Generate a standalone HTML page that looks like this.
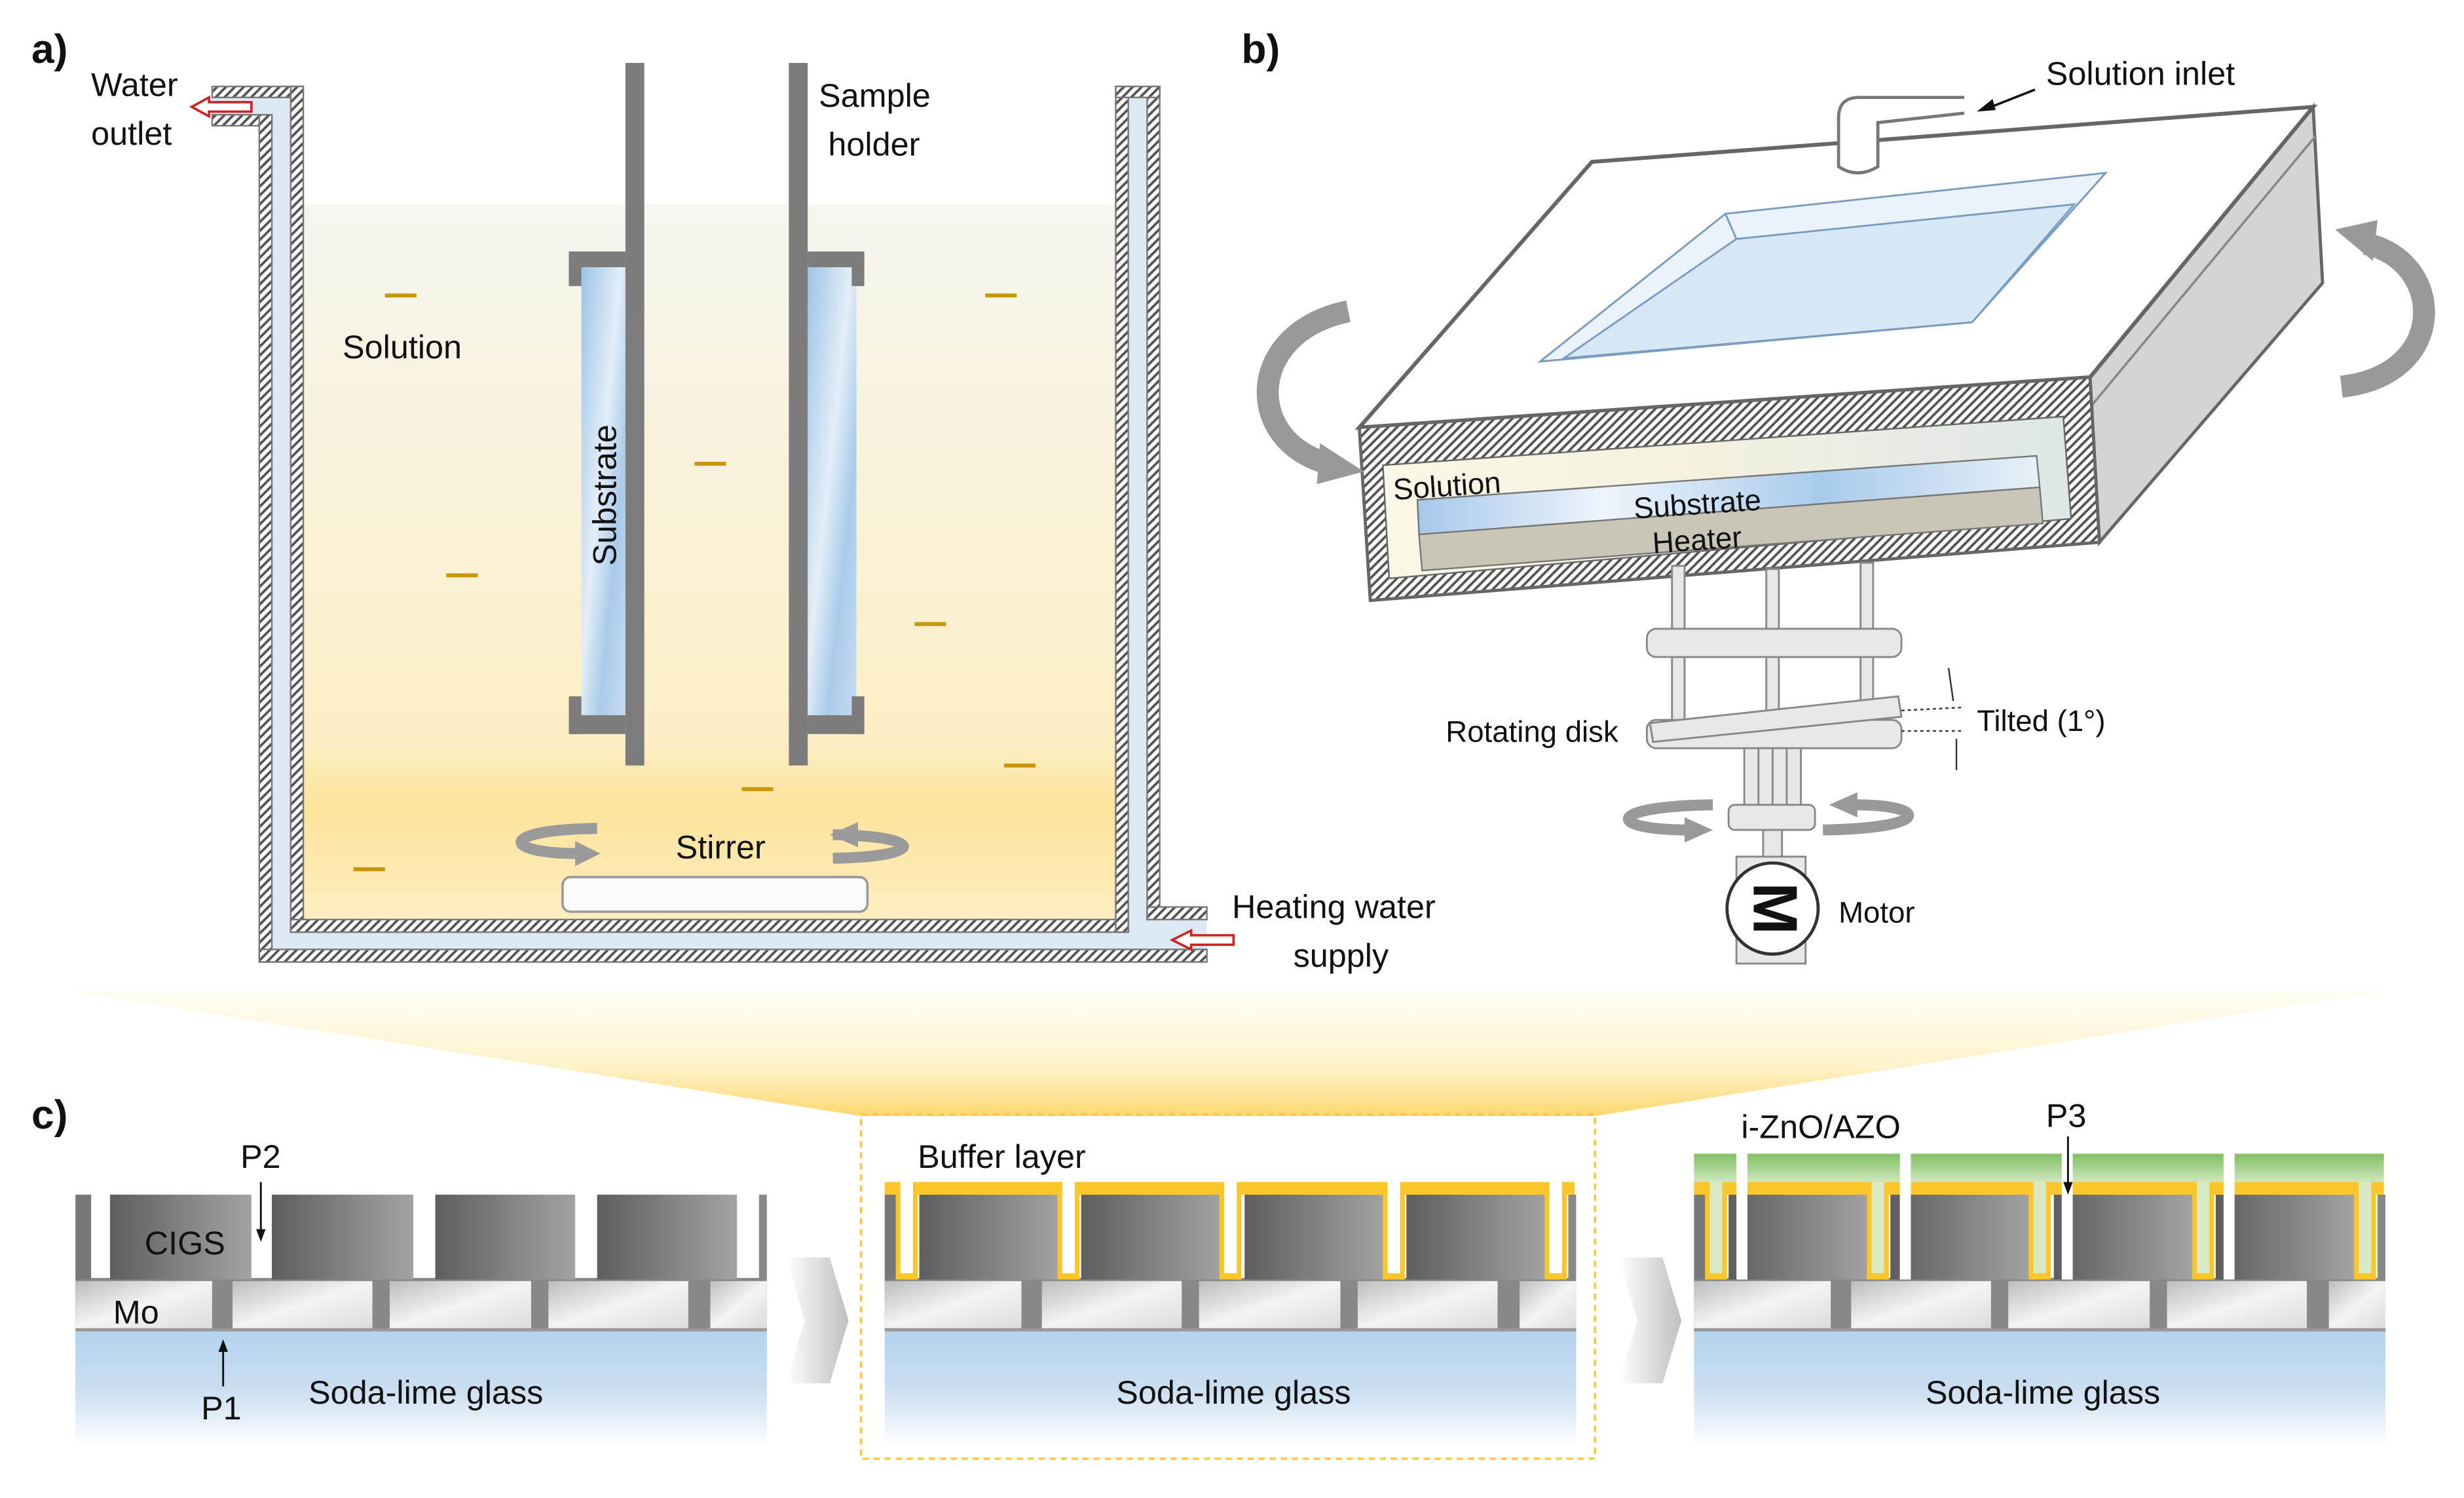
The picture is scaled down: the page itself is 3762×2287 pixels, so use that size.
<!DOCTYPE html>
<html><head><meta charset="utf-8"><style>
html,body{margin:0;padding:0;background:#fff;}
svg{display:block;}
text{font-family:"Liberation Sans",sans-serif;fill:#111;}
</style></head><body>
<svg width="3762" height="2287" viewBox="0 0 1568 953" preserveAspectRatio="none" xmlns="http://www.w3.org/2000/svg">
<defs>
<pattern id="hatch" patternUnits="userSpaceOnUse" width="4" height="4" patternTransform="rotate(45)">
<rect width="4" height="4" fill="#fff"/><rect width="1.6" height="4" fill="#555"/></pattern>
<linearGradient id="liq" x1="0" y1="0" x2="0" y2="1">
<stop offset="0" stop-color="#f6f5ef"/><stop offset="0.75" stop-color="#fcefc6"/><stop offset="0.84" stop-color="#fde39a"/><stop offset="1" stop-color="#fdedc0"/></linearGradient>
<linearGradient id="sub" x1="0" y1="0" x2="1" y2="1">
<stop offset="0" stop-color="#9cc3e6"/><stop offset="0.45" stop-color="#e3eef8"/><stop offset="0.7" stop-color="#a9cbea"/><stop offset="1" stop-color="#c8dcf0"/></linearGradient>
<linearGradient id="glass" x1="0" y1="0" x2="0" y2="1">
<stop offset="0" stop-color="#b3d2ec"/><stop offset="0.5" stop-color="#c9def1"/><stop offset="1" stop-color="#ffffff"/></linearGradient>
<linearGradient id="mo" x1="0" y1="0" x2="1" y2="1">
<stop offset="0" stop-color="#bdbdbd"/><stop offset="0.5" stop-color="#f4f4f4"/><stop offset="1" stop-color="#dcdcdc"/></linearGradient>
<linearGradient id="cigs" x1="0" y1="0" x2="1" y2="0">
<stop offset="0" stop-color="#5e5e5e"/><stop offset="1" stop-color="#a3a3a3"/></linearGradient>
<linearGradient id="fan" x1="0" y1="0" x2="0" y2="1">
<stop offset="0" stop-color="#fffdf5"/><stop offset="0.6" stop-color="#fff3cc"/><stop offset="1" stop-color="#fdd870"/></linearGradient>
<linearGradient id="green" x1="0" y1="0" x2="0" y2="1">
<stop offset="0" stop-color="#7fbf63"/><stop offset="1" stop-color="#cfe6bd"/></linearGradient>
<linearGradient id="chev" x1="0" y1="0" x2="1" y2="0">
<stop offset="0" stop-color="#fff"/><stop offset="1" stop-color="#bfbfbf"/></linearGradient>
<linearGradient id="bsol" x1="0" y1="0" x2="1" y2="0">
<stop offset="0" stop-color="#fbf7e6"/><stop offset="0.5" stop-color="#f3f0e0"/><stop offset="1" stop-color="#dde6e8"/></linearGradient>
<linearGradient id="bsub" x1="0" y1="0" x2="1" y2="0">
<stop offset="0" stop-color="#a6c8ea"/><stop offset="0.3" stop-color="#eef4fb"/><stop offset="0.65" stop-color="#a8cbec"/><stop offset="1" stop-color="#e8f0f8"/></linearGradient>
<g id="stack">
<rect x="48" y="845" width="440" height="76" fill="url(#glass)"/>
<rect x="48" y="813" width="440" height="33" fill="#888"/>
<rect x="48" y="815" width="87" height="30" fill="url(#mo)"/>
<rect x="148" y="815" width="89" height="30" fill="url(#mo)"/>
<rect x="248" y="815" width="90" height="30" fill="url(#mo)"/>
<rect x="349" y="815" width="89" height="30" fill="url(#mo)"/>
<rect x="452" y="815" width="36" height="30" fill="url(#mo)"/>
<rect x="48" y="845" width="440" height="2" fill="#999"/>
<rect x="48" y="760" width="10" height="54" fill="#777"/>
<rect x="70" y="760" width="90" height="54" fill="url(#cigs)"/>
<rect x="173" y="760" width="90" height="54" fill="url(#cigs)"/>
<rect x="277" y="760" width="89" height="54" fill="url(#cigs)"/>
<rect x="380" y="760" width="89" height="54" fill="url(#cigs)"/>
<rect x="483" y="760" width="5" height="54" fill="#888"/>
</g>
</defs>

<!-- Panel a -->
<text x="20" y="40" font-size="26" font-weight="bold">a)</text>
<rect x="193" y="130" width="517" height="455" fill="url(#liq)"/>
<g fill="#dce8f4">
<rect x="173" y="62" width="12" height="542"/><rect x="135" y="62" width="50" height="11"/>
<rect x="173" y="593" width="595" height="11"/><rect x="718" y="62" width="12" height="542"/>
<rect x="730" y="585" width="38" height="19"/></g>
<g fill="url(#hatch)" stroke="#777" stroke-width="1">
<rect x="135" y="55" width="58" height="7"/><rect x="135" y="73" width="38" height="7"/>
<rect x="165" y="73" width="8" height="539"/><rect x="185" y="55" width="8" height="538"/>
<rect x="185" y="585" width="533" height="8"/><rect x="165" y="604" width="603" height="8"/>
<rect x="710" y="55" width="8" height="538"/><rect x="730" y="55" width="8" height="530"/>
<rect x="710" y="55" width="28" height="7"/><rect x="730" y="577" width="38" height="8"/></g>
<path d="M160,65 L133,65 L133,62 L122,68 L133,74 L133,71 L160,71 Z" fill="#fff" stroke="#d02020" stroke-width="1.5"/>
<path d="M785,595 L758,595 L758,592 L746,598 L758,604 L758,601 L785,601 Z" fill="#fff" stroke="#d02020" stroke-width="1.5"/>
<rect x="370" y="170" width="28" height="285" fill="url(#sub)"/>
<rect x="514" y="170" width="31" height="285" fill="url(#sub)"/>
<g fill="#7c7c7c">
<rect x="398" y="40" width="12" height="447"/><rect x="502" y="40" width="12" height="447"/>
<rect x="362" y="160" width="36" height="10"/><rect x="362" y="160" width="8" height="22"/>
<rect x="362" y="455" width="36" height="12"/><rect x="362" y="443" width="8" height="24"/>
<rect x="514" y="160" width="36" height="10"/><rect x="542" y="160" width="8" height="22"/>
<rect x="514" y="455" width="36" height="12"/><rect x="542" y="443" width="8" height="24"/></g>
<text transform="translate(392,315) rotate(-90)" font-size="21" text-anchor="middle">Substrate</text>
<g stroke="#c8960a" stroke-width="2.5">
<line x1="245" y1="188" x2="265" y2="188"/><line x1="627" y1="188" x2="647" y2="188"/>
<line x1="442" y1="295" x2="462" y2="295"/><line x1="284" y1="366" x2="304" y2="366"/>
<line x1="582" y1="397" x2="602" y2="397"/><line x1="639" y1="487" x2="659" y2="487"/>
<line x1="472" y1="502" x2="492" y2="502"/><line x1="225" y1="553" x2="245" y2="553"/></g>
<rect x="358" y="558" width="194" height="22" rx="5" fill="#fafafa" stroke="#999" stroke-width="1.5"/>
<path d="M380,527 C315,528 320,543 368,543" fill="none" stroke="#9a9a9a" stroke-width="7"/>
<polygon points="366,535 382,543 366,551" fill="#9a9a9a"/>
<path d="M530,531 C590,532 590,545 530,546" fill="none" stroke="#9a9a9a" stroke-width="7"/>
<polygon points="546,523 528,531 546,539" fill="#9a9a9a"/>
<g font-size="21">
<text x="58" y="61">Water</text><text x="58" y="92">outlet</text>
<text x="521" y="68">Sample</text><text x="527" y="99">holder</text>
<text x="218" y="228">Solution</text>
<text x="430" y="546">Stirrer</text>
<text x="784" y="584">Heating water</text><text x="823" y="615">supply</text></g>

<!-- Panel b -->
<text x="790" y="40" font-size="26" font-weight="bold">b)</text>
<polygon points="1330,240 1472,68 1478,180 1336,345" fill="#d4d4d4" stroke="#666" stroke-width="2"/>
<line x1="1331" y1="258" x2="1474" y2="86" stroke="#888" stroke-width="1.5"/>
<polygon points="1013,103 1472,68 1330,240 865,272" fill="#fff" stroke="#666" stroke-width="2.5"/>
<polygon points="980,230 1098,136 1340,110 1255,205" fill="#eaf2fa" stroke="#7a9cbf" stroke-width="1.2"/>
<polygon points="995,228 1105,152 1320,130 1255,205" fill="#d8e7f5" stroke="#7a9cbf" stroke-width="1.2"/>
<line x1="1098" y1="136" x2="1105" y2="152" stroke="#7a9cbf" stroke-width="1.2"/>
<path d="M1250,62 L1183,62 Q1170,62 1170,75 L1170,106 Q1182,114 1195,106 L1195,78 L1250,72" fill="#fff" stroke="#777" stroke-width="2"/>
<line x1="1295" y1="57" x2="1262" y2="70" stroke="#111" stroke-width="1.5"/>
<polygon points="1258,71 1268,63 1270,70" fill="#111"/>
<polygon points="865,272 1330,240 1336,345 872,382" fill="url(#hatch)" stroke="#666" stroke-width="2"/>
<polygon points="880,296 1313,265 1318,330 884,368" fill="url(#bsol)" stroke="#666" stroke-width="1"/>
<polygon points="902,318 1296,290 1298,310 903,340" fill="url(#bsub)" stroke="#777" stroke-width="1"/>
<polygon points="903,340 1298,310 1300,333 905,363" fill="#c9c6b7" stroke="#777" stroke-width="1"/>
<g font-size="19">
<text transform="translate(887,318) rotate(-4)">Solution</text>
<text transform="translate(1040,330) rotate(-4)">Substrate</text>
<text transform="translate(1052,352) rotate(-4)">Heater</text></g>
<path d="M858,198 C790,212 792,285 850,296" fill="none" stroke="#999" stroke-width="14"/>
<polygon points="840,282 868,300 838,308" fill="#999"/>
<path d="M1490,246 C1560,238 1555,165 1505,155" fill="none" stroke="#999" stroke-width="14"/>
<polygon points="1513,140 1486,146 1510,166" fill="#999"/>
<g fill="#e8e8e8" stroke="#888" stroke-width="1.2">
<rect x="1064" y="360" width="8" height="100"/><rect x="1124" y="362" width="8" height="96"/><rect x="1184" y="358" width="8" height="95"/>
<rect x="1048" y="400" width="162" height="18" rx="6"/>
<rect x="1048" y="458" width="162" height="18" rx="6"/>
<polygon points="1050,460 1208,443 1210,456 1052,472"/>
<rect x="1110" y="476" width="36" height="38"/>
<line x1="1119" y1="476" x2="1119" y2="514"/><line x1="1128" y1="476" x2="1128" y2="514"/><line x1="1137" y1="476" x2="1137" y2="514"/>
<rect x="1100" y="512" width="55" height="16" rx="4"/>
<rect x="1122" y="528" width="12" height="18"/>
<rect x="1105" y="545" width="44" height="68"/></g>
<circle cx="1128" cy="578" r="29" fill="#fff" stroke="#333" stroke-width="2"/>
<text transform="translate(1116,578) rotate(90)" font-size="40" font-weight="bold" text-anchor="middle">M</text>
<path d="M1090,512 C1020,513 1022,528 1075,528" fill="none" stroke="#999" stroke-width="7"/>
<polygon points="1072,520 1090,528 1072,536" fill="#999"/>
<path d="M1160,528 C1230,527 1228,512 1180,512" fill="none" stroke="#999" stroke-width="7"/>
<polygon points="1182,504 1164,512 1182,520" fill="#999"/>
<g stroke="#333" stroke-width="1" stroke-dasharray="2,2">
<line x1="1210" y1="452" x2="1250" y2="450"/><line x1="1210" y1="465" x2="1250" y2="465"/></g>
<line x1="1240" y1="425" x2="1243" y2="446" stroke="#333" stroke-width="1"/>
<line x1="1245" y1="490" x2="1245" y2="470" stroke="#333" stroke-width="1"/>
<g font-size="19">
<text x="1302" y="54" font-size="21">Solution inlet</text>
<text x="920" y="472">Rotating disk</text>
<text x="1258" y="465">Tilted (1°)</text>
<text x="1170" y="587">Motor</text></g>

<!-- Panel c -->
<polygon points="40,630 1520,630 1015,710 548,710" fill="url(#fan)"/>
<text x="20" y="718" font-size="26" font-weight="bold">c)</text>
<use href="#stack"/>
<use href="#stack" transform="translate(515,0)"/>
<use href="#stack" transform="translate(1030,0)"/>
<polygon points="500,800 528,800 540,840 528,880 500,880 512,840" fill="url(#chev)"/>
<polygon points="1030,800 1058,800 1070,840 1058,880 1030,880 1042,840" fill="url(#chev)"/>
<rect x="563" y="752" width="439" height="8" fill="#fcc52a"/>
<g fill="#fcc52a">
<rect x="570" y="752" width="14" height="62"/><rect x="673" y="752" width="14" height="62"/><rect x="776" y="752" width="14" height="62"/><rect x="880" y="752" width="14" height="62"/><rect x="983" y="752" width="14" height="62"/></g>
<g fill="#fff">
<rect x="573" y="752" width="8" height="58"/><rect x="676" y="752" width="8" height="58"/><rect x="779" y="752" width="8" height="58"/><rect x="883" y="752" width="8" height="58"/><rect x="986" y="752" width="8" height="58"/></g>
<rect x="1078" y="734" width="439" height="18" fill="url(#green)"/>
<rect x="1078" y="752" width="439" height="8" fill="#fcc52a"/>
<g fill="#fcc52a">
<rect x="1085" y="752" width="14" height="62"/><rect x="1188" y="752" width="14" height="62"/><rect x="1291" y="752" width="14" height="62"/><rect x="1395" y="752" width="14" height="62"/><rect x="1498" y="752" width="14" height="62"/></g>
<g fill="#d8e9c6">
<rect x="1088" y="752" width="8" height="58"/><rect x="1191" y="752" width="8" height="58"/><rect x="1294" y="752" width="8" height="58"/><rect x="1398" y="752" width="8" height="58"/><rect x="1501" y="752" width="8" height="58"/></g>
<g fill="#fff">
<rect x="1105" y="734" width="7" height="80"/><rect x="1209" y="734" width="7" height="80"/><rect x="1312" y="734" width="7" height="80"/><rect x="1415" y="734" width="7" height="80"/></g>
<rect x="548" y="709" width="467" height="219" fill="none" stroke="#fcc840" stroke-width="1.5" stroke-dasharray="4,3"/>
<line x1="166" y1="752" x2="166" y2="785" stroke="#111" stroke-width="1.2"/><polygon points="163,782 169,782 166,790" fill="#111"/>
<line x1="142" y1="882" x2="142" y2="858" stroke="#111" stroke-width="1.2"/><polygon points="139,860 145,860 142,852" fill="#111"/>
<line x1="1316" y1="723" x2="1316" y2="755" stroke="#111" stroke-width="1.2"/><polygon points="1313,752 1319,752 1316,760" fill="#111"/>
<g font-size="21">
<text x="153" y="743">P2</text>
<text x="92" y="798" fill="#222">CIGS</text>
<text x="72" y="842">Mo</text>
<text x="128" y="903">P1</text>
<text x="271" y="893" text-anchor="middle">Soda-lime glass</text>
<text x="785" y="893" text-anchor="middle">Soda-lime glass</text>
<text x="1300" y="893" text-anchor="middle">Soda-lime glass</text>
<text x="584" y="743">Buffer layer</text>
<text x="1108" y="724">i-ZnO/AZO</text>
<text x="1302" y="717">P3</text></g>
</svg>
</body></html>
